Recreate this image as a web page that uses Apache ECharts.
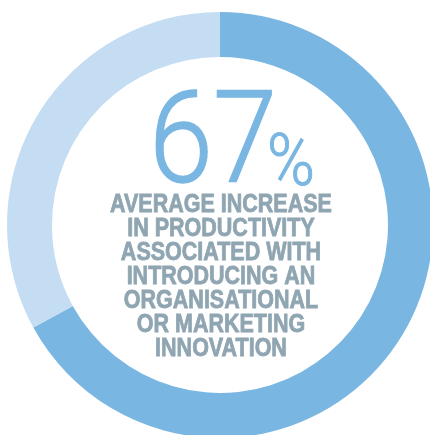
<!DOCTYPE html>
<html>
<head>
<meta charset="utf-8">
<script src="https://cdn.jsdelivr.net/npm/echarts@6/dist/echarts.min.js"></script>
<style>html,body{margin:0;padding:0;background:#fff}#c{width:430px;height:435px}</style>
</head>
<body>
<div id="c"></div>
<script>
var categories = ['Increase', 'Remainder'];
var values = [67, 33];
var headline = '67';
var headlineUnit = '%';
var captionLines = ['AVERAGE INCREASE', 'IN PRODUCTIVITY', 'ASSOCIATED WITH', 'INTRODUCING AN', 'ORGANISATIONAL', 'OR MARKETING', 'INNOVATION'];

var DARK = '#7ab6e2';
var LIGHT = '#c5ddf3';
var GRAY = '#8fa6b2';

var chart = echarts.init(document.getElementById('c'), null, {renderer: 'canvas'});
var graphics = [
  {type: 'text', x: 213, y: 150, scaleX: 0.9,
   style: {text: headline, fontFamily: 'Roboto', fontWeight: 300, fontSize: 128, fill: DARK, stroke: DARK, lineWidth: 1.4, align: 'center', verticalAlign: 'middle'}},
  {type: 'text', x: 291, y: 167, scaleX: 0.9,
   style: {text: headlineUnit, fontFamily: 'Roboto', fontWeight: 300, fontSize: 72, fill: DARK, stroke: DARK, lineWidth: 1, align: 'center', verticalAlign: 'middle'}}
];
captionLines.forEach(function (t, i) {
  graphics.push({type: 'text', x: 221, y: 205.5 + i * 24, scaleX: 0.86,
    style: {text: t, fontFamily: 'Liberation Sans', fontWeight: 'bold', fontSize: 25, fill: GRAY, stroke: GRAY, lineWidth: 0.8, align: 'center', verticalAlign: 'middle'}});
});

chart.setOption({
  animation: false,
  series: [{
    type: 'pie',
    center: [220, 225],
    radius: [168, 213],
    startAngle: 90,
    clockwise: true,
    silent: true,
    label: {show: false},
    labelLine: {show: false},
    itemStyle: {borderWidth: 0},
    data: categories.map(function (c, i) {
      return {name: c, value: values[i], itemStyle: {color: i === 0 ? DARK : LIGHT}};
    })
  }],
  graphic: graphics
});
</script>
</body>
</html>
